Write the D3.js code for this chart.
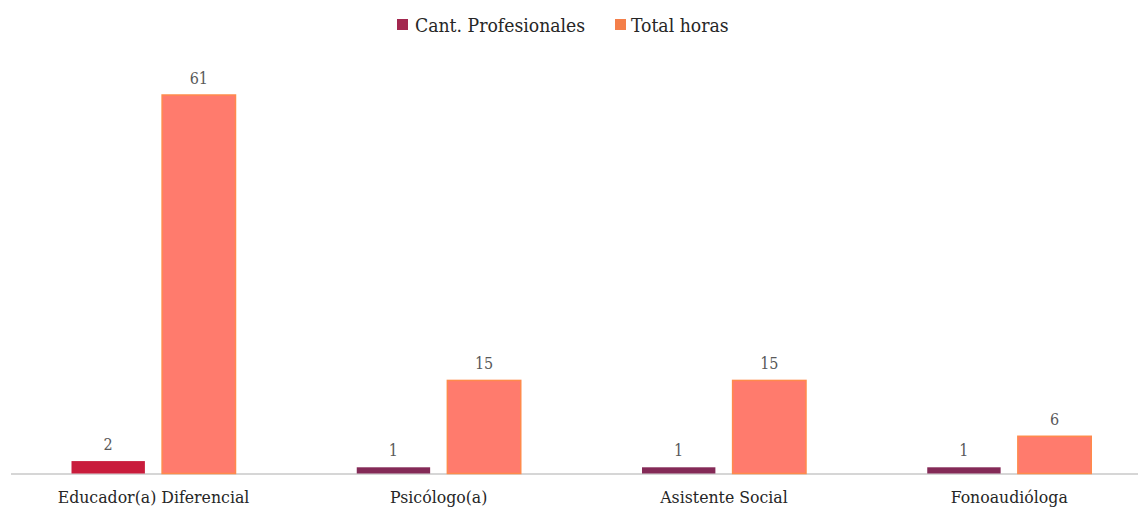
<!DOCTYPE html>
<html>
<head>
<meta charset="utf-8">
<script src="https://cdn.jsdelivr.net/npm/d3@7"></script>
<style>
  html, body { margin: 0; padding: 0; background: #fff; }
  svg { display: block; }
</style>
</head>
<body>
<svg id="chart" width="1138" height="513"></svg>
<script>
// Professionals and total hours per role
const categories = ["Educador(a) Diferencial", "Psicólogo(a)", "Asistente Social", "Fonoaudióloga"];
const seriesNames = ["Cant. Profesionales", "Total horas"];
const profesionales = [2, 1, 1, 1];
const horas = [61, 15, 15, 6];

const W = 1138, H = 513;
const baseY = 473.5, topY = 95;
const font = "'DejaVu Serif Condensed', 'DejaVu Serif', serif";

const svg = d3.select("#chart");

const x = d3.scaleBand().domain(categories).range([11, 1152]).paddingInner(0).paddingOuter(0);
const x1 = d3.scaleBand().domain(seriesNames).range([60.5, 224.5]).paddingInner(0.19);
const y = d3.scaleLinear().domain([0, 61]).range([baseY, topY]);

const purpleColors = ["#c91c3c", "#842a57", "#842a57", "#842a57"];
const orangeFill = "#ff7b6d";
const orangeStroke = "#ff8a4c";

const rows = categories.map((c, i) => ({ cat: c, i, vals: [profesionales[i], horas[i]] }));

// baseline
svg.append("line")
  .attr("x1", 11).attr("x2", W)
  .attr("y1", baseY + 0.5).attr("y2", baseY + 0.5)
  .attr("stroke", "#c8c8c8").attr("stroke-width", 1.5);

const g = svg.selectAll("g.grp").data(rows).join("g")
  .attr("class", "grp")
  .attr("transform", d => `translate(${x(d.cat)},0)`);

g.each(function(d) {
  const grp = d3.select(this);
  seriesNames.forEach((s, k) => {
    const v = d.vals[k];
    const bx = x1(s), bw = x1.bandwidth();
    grp.append("rect")
      .attr("x", bx).attr("width", bw)
      .attr("y", y(v)).attr("height", baseY - y(v))
      .attr("fill", k === 0 ? purpleColors[d.i] : orangeFill)
      .attr("stroke", k === 0 ? "none" : orangeStroke)
      .attr("stroke-width", 1.5);
    grp.append("text")
      .attr("x", bx + bw / 2).attr("y", y(v) - 11)
      .attr("text-anchor", "middle")
      .attr("font-family", font).attr("font-size", 16)
      .attr("fill", "#595959")
      .text(v);
  });
});

// category labels
svg.selectAll("text.cat").data(categories).join("text")
  .attr("class", "cat")
  .attr("x", d => x(d) + 142.5).attr("y", 503)
  .attr("text-anchor", "middle")
  .attr("font-family", font).attr("font-size", 17.5)
  .attr("fill", "#262626")
  .text(d => d);

// legend
const legend = [
  { name: seriesNames[0], color: "#a3284f", x: 397, tx: 415 },
  { name: seriesNames[1], color: "#f47f4a", x: 615, tx: 631 }
];
const lg = svg.selectAll("g.leg").data(legend).join("g").attr("class", "leg");
lg.append("rect")
  .attr("x", d => d.x).attr("y", 19).attr("width", 11).attr("height", 11)
  .attr("fill", d => d.color);
lg.append("text")
  .attr("x", d => d.tx).attr("y", 32)
  .attr("font-family", font).attr("font-size", 19.2)
  .attr("fill", "#262626")
  .text(d => d.name);
</script>
</body>
</html>
